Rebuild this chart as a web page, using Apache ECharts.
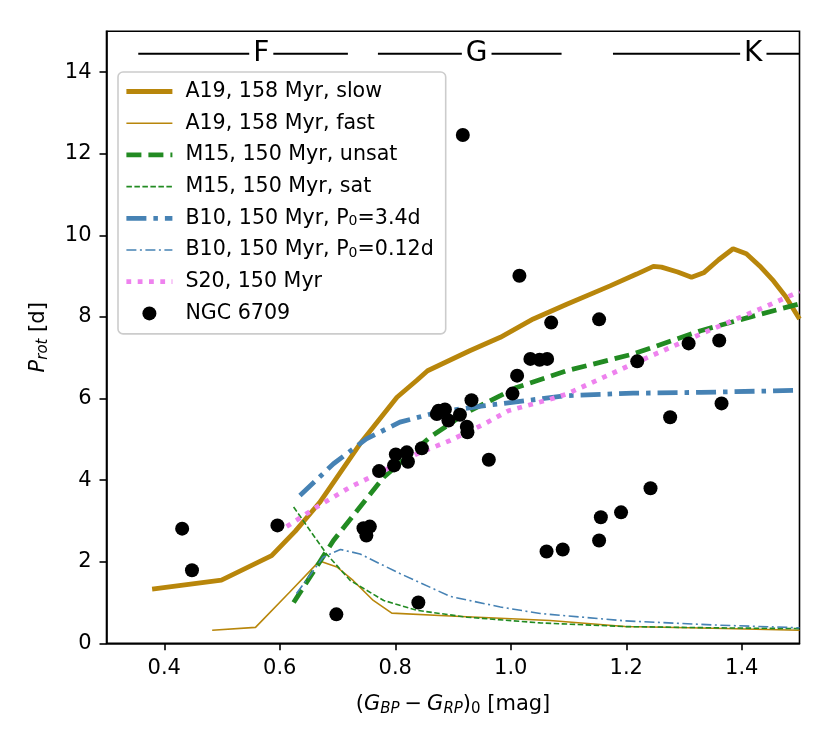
<!DOCTYPE html>
<html>
<head>
<meta charset="utf-8">
<script src="https://cdn.jsdelivr.net/npm/echarts@6/dist/echarts.min.js"></script>
<style>
  html, body { margin: 0; padding: 0; background: #fff; }
  #chart { width: 830px; height: 747px; }
</style>
</head>
<body>
<div id="chart"></div>
<script>
// model tracks, [colour (mag), P_rot (d)]
const a19Slow = [
  [0.379, 1.33], [0.499, 1.55], [0.586, 2.15], [0.627, 2.75], [0.669, 3.45],
  [0.739, 4.89], [0.803, 6.03], [0.837, 6.44], [0.856, 6.68], [0.929, 7.17],
  [0.982, 7.50], [1.039, 7.95], [1.097, 8.31], [1.172, 8.76], [1.218, 9.05],
  [1.247, 9.24], [1.261, 9.22], [1.289, 9.10], [1.313, 8.97], [1.334, 9.08],
  [1.360, 9.40], [1.385, 9.67], [1.408, 9.55], [1.431, 9.25], [1.455, 8.88],
  [1.476, 8.50], [1.500, 7.95]
];
const a19Fast = [
  [0.483, 0.32], [0.558, 0.39], [0.617, 1.25], [0.669, 2.02], [0.699, 1.87],
  [0.727, 1.54], [0.762, 1.05], [0.794, 0.74], [0.895, 0.67], [1.068, 0.56],
  [1.198, 0.41], [1.350, 0.37], [1.500, 0.32]
];
const m15Unsat = [
  [0.624, 1.00], [0.693, 2.52], [0.780, 4.07], [0.860, 5.05], [0.924, 5.66],
  [0.982, 6.07], [1.010, 6.27], [1.097, 6.68], [1.212, 7.09], [1.329, 7.66],
  [1.420, 8.02], [1.500, 8.32]
];
const m15Sat = [
  [0.624, 3.34], [0.681, 2.19], [0.722, 1.54], [0.780, 1.05], [0.837, 0.81],
  [0.924, 0.64], [1.051, 0.50], [1.198, 0.41], [1.350, 0.38], [1.500, 0.36]
];
const b10Slow = [
  [0.635, 3.62], [0.693, 4.40], [0.750, 5.01], [0.808, 5.42], [0.872, 5.66],
  [0.952, 5.82], [1.051, 5.99], [1.097, 6.07], [1.212, 6.13], [1.329, 6.15],
  [1.500, 6.20]
];
const b10Fast = [
  [0.629, 1.22], [0.675, 2.11], [0.705, 2.30], [0.739, 2.19], [0.808, 1.71],
  [0.895, 1.15], [0.982, 0.89], [1.051, 0.73], [1.198, 0.55], [1.350, 0.45],
  [1.500, 0.38]
];
const s20 = [
  [0.612, 2.86], [0.664, 3.34], [0.722, 3.83], [0.780, 4.23], [0.837, 4.64],
  [0.895, 4.97], [0.952, 5.36], [0.996, 5.70], [1.068, 5.98], [1.097, 6.11],
  [1.212, 6.85], [1.329, 7.58], [1.444, 8.27], [1.500, 8.62]
];
// NGC 6709 rotators
const ngc6709 = [
  [0.431, 2.81], [0.448, 1.79], [0.596, 2.89], [0.698, 0.71], [0.745, 2.82],
  [0.756, 2.86], [0.750, 2.64], [0.840, 1.00], [0.772, 4.22], [0.798, 4.36],
  [0.801, 4.63], [0.820, 4.68], [0.822, 4.45], [0.846, 4.78], [0.872, 5.62],
  [0.886, 5.73], [0.892, 5.46], [0.875, 5.70], [0.912, 5.60], [0.924, 5.31],
  [0.925, 5.17], [0.932, 5.96], [0.962, 4.50], [1.003, 6.12], [1.011, 6.56],
  [1.015, 9.01], [1.034, 6.97], [1.050, 6.95], [1.063, 6.97], [1.070, 7.86],
  [1.153, 7.94], [0.917, 12.46], [1.219, 6.91], [1.308, 7.35], [1.361, 7.42],
  [1.365, 5.88], [1.276, 5.54], [1.242, 3.80], [1.191, 3.21], [1.156, 3.09],
  [1.062, 2.25], [1.090, 2.30], [1.153, 2.52]
];
// spectral type bars along the top: [from, to, label position, label]
const specY = 14.45;
const specBands = [
  [0.355, 0.718, 0.568, 'F'],
  [0.770, 1.088, 0.941, 'G'],
  [1.177, 1.500, 1.420, 'K']
];
const xTicks = [0.4, 0.6, 0.8, 1.0, 1.2, 1.4];
const yTicks = [0, 2, 4, 6, 8, 10, 12, 14];

const GOLD = '#B8860B', GREEN = '#228B22', BLUE = '#4682B4', VIOLET = '#EE82EE';
const FONT = 'DejaVu Sans';

function track(name, data, color, width, type) {
  return {
    name, type: 'line', data, showSymbol: false, symbol: 'none',
    lineStyle: { color, width, type, cap: 'butt' },
    itemStyle: { color }, z: 2, silent: true, animation: false
  };
}

const series = [
  track('A19, 158 Myr, slow', a19Slow, GOLD, 4.8, 'solid'),
  track('A19, 158 Myr, fast', a19Fast, GOLD, 1.6, 'solid'),
  track('M15, 150 Myr, unsat', m15Unsat, GREEN, 4.8, [15, 7]),
  track('M15, 150 Myr, sat', m15Sat, GREEN, 1.6, [5.5, 2.5]),
  track('B10, 150 Myr, P0=3.4d', b10Slow, BLUE, 4.8, [20, 7, 4.5, 7]),
  track('B10, 150 Myr, P0=0.12d', b10Fast, BLUE, 1.6, [10, 3.5, 2, 3.5]),
  track('S20, 150 Myr', s20, VIOLET, 4.8, [4.8, 6.5]),
  {
    name: 'NGC 6709', type: 'scatter', data: ngc6709, symbolSize: 14,
    itemStyle: { color: '#000', opacity: 1 }, z: 3, silent: true, animation: false
  }
];

specBands.forEach(([x0, x1, xl, label]) => {
  series.push({
    type: 'line', data: [[x0, specY], [x1, specY]], showSymbol: false, symbol: 'none',
    lineStyle: { color: '#000', width: 2 }, silent: true, animation: false, z: 1
  });
  series.push({
    type: 'scatter', data: [[xl, specY]], symbolSize: 0, silent: true, animation: false, z: 4,
    itemStyle: { opacity: 1 },
    label: {
      show: true, position: 'inside', formatter: label, color: '#000',
      fontFamily: FONT, fontSize: 28, backgroundColor: '#fff', padding: [0, 4]
    }
  });
});

// legend entries copy each track's own line style so thick/thin and dashes show
const legendData = series.filter(s => s.name).map(s =>
  s.type === 'line'
    ? { name: s.name, itemStyle: { opacity: 0 }, lineStyle: Object.assign({}, s.lineStyle) }
    : { name: s.name }
);

const chart = echarts.init(document.getElementById('chart'), null, { renderer: 'canvas' });
chart.setOption({
  animation: false,
  backgroundColor: '#fff',
  grid: { left: 106.5, right: 30.5, top: 31.3, bottom: 103.7, show: true, borderColor: '#000', borderWidth: 1.6 },
  xAxis: {
    type: 'value', min: 0.3, max: 1.5,
    name: '({it|G}{sub|BP}{op|−}{it|G}{sub|RP}){sub0|0} [mag]',
    nameLocation: 'middle', nameGap: 49,
    nameTextStyle: {
      fontFamily: FONT, fontSize: 21, color: '#000',
      rich: {
        it: { fontFamily: FONT, fontSize: 21, fontStyle: 'italic', color: '#000' },
        op: { fontFamily: FONT, fontSize: 21, color: '#000', padding: [0, 5] },
        sub: { fontFamily: FONT, fontSize: 15, fontStyle: 'italic', color: '#000', padding: [9, 0, 0, 0] },
        sub0: { fontFamily: FONT, fontSize: 15, color: '#000', padding: [9, 0, 0, 0] }
      }
    },
    splitLine: { show: false },
    axisLine: { show: true, onZero: false, lineStyle: { color: '#000', width: 1.6 } },
    axisTick: { show: true, length: 7, lineStyle: { color: '#000', width: 1.6 }, customValues: xTicks },
    axisLabel: {
      customValues: xTicks, formatter: v => v.toFixed(1),
      fontFamily: FONT, fontSize: 21, color: '#000', margin: 15
    }
  },
  yAxis: {
    type: 'value', min: 0, max: 15,
    name: '{it|P}{sub|rot} [d]',
    nameLocation: 'middle', nameGap: 56, nameRotate: 90,
    nameTextStyle: {
      fontFamily: FONT, fontSize: 21, color: '#000',
      rich: {
        it: { fontFamily: FONT, fontSize: 21, fontStyle: 'italic', color: '#000' },
        sub: { fontFamily: FONT, fontSize: 15, fontStyle: 'italic', color: '#000', padding: [9, 0, 0, 0] }
      }
    },
    splitLine: { show: false },
    axisLine: { show: true, onZero: false, lineStyle: { color: '#000', width: 1.6 } },
    axisTick: { show: true, length: 7, lineStyle: { color: '#000', width: 1.6 }, customValues: yTicks },
    axisLabel: {
      customValues: yTicks, fontFamily: FONT, fontSize: 21, color: '#000', margin: 15
    }
  },
  legend: {
    left: 118, top: 72, orient: 'vertical',
    data: legendData,
    itemWidth: 46, itemHeight: 14, itemGap: 10.7,
    padding: [9, 12, 10, 6],
    backgroundColor: 'rgba(255,255,255,0.85)', borderColor: '#ccc', borderWidth: 1.6, borderRadius: 5,
    selectedMode: false,
    formatter: name => name.replace('P0', 'P{sub|0}'),
    textStyle: {
      fontFamily: FONT, fontSize: 20.6, lineHeight: 20, color: '#000', padding: [0, 0, 0, 8],
      rich: { sub: { fontFamily: FONT, fontSize: 14, lineHeight: 14, color: '#000', padding: [6, 0, 0, 0] } }
    }
  },
  series
});
</script>
</body>
</html>
